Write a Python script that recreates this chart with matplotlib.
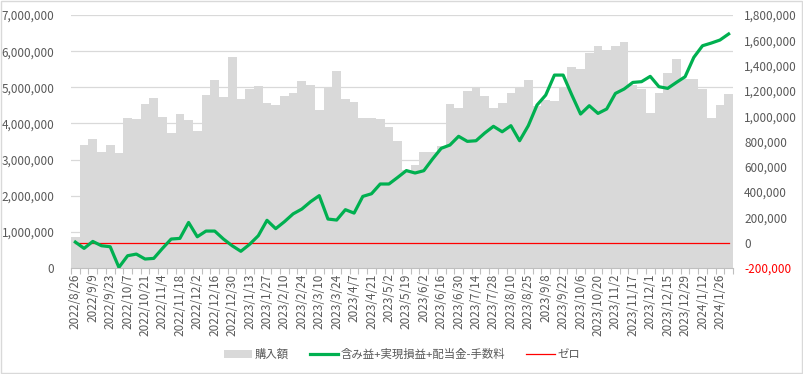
import matplotlib.pyplot as plt
from matplotlib.patches import Patch, Rectangle
from matplotlib.lines import Line2D
from matplotlib.ticker import FuncFormatter

plt.rcParams['font.family'] = ['Noto Sans CJK JP', 'DejaVu Sans']

# 日付（週ごと）
dates = [
    "2022/8/26", "2022/9/2", "2022/9/9", "2022/9/16", "2022/9/23", "2022/9/30",
    "2022/10/7", "2022/10/14", "2022/10/21", "2022/10/28", "2022/11/4", "2022/11/11",
    "2022/11/18", "2022/11/25", "2022/12/2", "2022/12/9", "2022/12/16", "2022/12/23",
    "2022/12/30", "2023/1/6", "2023/1/13", "2023/1/20", "2023/1/27", "2023/2/3",
    "2023/2/10", "2023/2/17", "2023/2/24", "2023/3/3", "2023/3/10", "2023/3/17",
    "2023/3/24", "2023/3/31", "2023/4/7", "2023/4/14", "2023/4/21", "2023/4/28",
    "2023/5/2", "2023/5/12", "2023/5/19", "2023/5/26", "2023/6/2", "2023/6/9",
    "2023/6/16", "2023/6/23", "2023/6/30", "2023/7/7", "2023/7/14", "2023/7/21",
    "2023/7/28", "2023/8/4", "2023/8/10", "2023/8/18", "2023/8/25", "2023/9/1",
    "2023/9/8", "2023/9/15", "2023/9/22", "2023/9/29", "2023/10/6", "2023/10/13",
    "2023/10/20", "2023/10/27", "2023/11/2", "2023/11/10", "2023/11/17", "2023/11/24",
    "2023/12/1", "2023/12/8", "2023/12/15", "2023/12/22", "2023/12/29", "2024/1/5",
    "2024/1/12", "2024/1/19", "2024/1/26", "2024/2/2",
]

# 購入額（左軸）
kounyu = [
    850000, 3400000, 3580000, 3220000, 3410000, 3190000, 4150000, 4130000, 4530000, 4710000,
    4180000, 3740000, 4260000, 4090000, 3790000, 4790000, 5200000, 4730000, 5840000, 4680000,
    4950000, 5030000, 4570000, 4510000, 4750000, 4840000, 5180000, 5060000, 4360000, 4990000,
    5450000, 4680000, 4590000, 4150000, 4150000, 4130000, 3910000, 3520000, 2700000, 2860000,
    3220000, 3220000, 3370000, 4540000, 4420000, 4910000, 5010000, 4760000, 4430000, 4570000,
    4830000, 5000000, 5200000, 4480000, 4640000, 4610000, 4980000, 5560000, 5510000, 5950000,
    6150000, 6040000, 6150000, 6250000, 5070000, 4960000, 4290000, 4830000, 5400000, 5780000,
    5240000, 5230000, 4940000, 4150000, 4500000, 4820000,
]

# 含み益+実現損益+配当金-手数料（右軸）
soneki = [
    5000, -45000, 10000, -24000, -32000, -195000, -103000, -90000, -129000, -124000,
    -45000, 29000, 34000, 160000, 47000, 92000, 92000, 29000, -24000, -68000,
    -13000, 55000, 177000, 111000, 166000, 228000, 266000, 324000, 372000, 187000,
    179000, 261000, 234000, 366000, 387000, 464000, 464000, 516000, 570000, 551000,
    569000, 661000, 746000, 772000, 841000, 801000, 806000, 867000, 920000, 877000,
    925000, 806000, 925000, 1088000, 1167000, 1325000, 1325000, 1167000, 1017000, 1083000,
    1022000, 1057000, 1180000, 1215000, 1267000, 1273000, 1315000, 1233000, 1220000, 1267000,
    1312000, 1465000, 1557000, 1578000, 1602000, 1650000,
]

zero = [0] * len(dates)

x = list(range(len(dates)))
txt = '#595959'

fig = plt.figure(figsize=(8.04, 3.74), dpi=100)
ax = fig.add_axes([71 / 804, 1 - 268 / 374, 662 / 804, 253 / 374])

ax.bar(x, kounyu, width=1.0, color='#d9d9d9', zorder=2)
ax.set_xlim(-0.5, len(dates) - 0.5)
ax.set_ylim(0, 7000000)
ax.set_yticks(range(0, 7000001, 1000000))
ax.yaxis.set_major_formatter(FuncFormatter(lambda v, p: f"{int(v):,}"))
ax.grid(axis='y', color='#d9d9d9', linewidth=0.9, zorder=0)
ax.set_axisbelow(True)

# 目盛り：ラベルは2週ごと、目盛り線は各区切り
ax.set_xticks(x[::2])
ax.set_xticklabels(dates[::2], rotation=90, fontsize=8.5, color=txt)
ax.set_xticks([i - 0.5 for i in range(len(dates) + 1)], minor=True)
ax.tick_params(axis='x', which='major', length=0, pad=4)
ax.tick_params(axis='x', which='minor', length=4, color='#bfbfbf', width=0.8)
ax.tick_params(axis='y', length=0, labelsize=8.5, labelcolor=txt, pad=12)

for s in ['top', 'left', 'right']:
    ax.spines[s].set_visible(False)
ax.spines['bottom'].set_color('#bfbfbf')

ax2 = ax.twinx()
ax2.plot(x, zero, color='#ff0000', linewidth=0.9, zorder=3)
ax2.plot(x, soneki, color='#00b050', linewidth=2.3, zorder=4)
ax2.set_ylim(-200000, 1800000)
ax2.set_yticks(range(-200000, 1800001, 200000))
ax2.yaxis.set_major_formatter(FuncFormatter(lambda v, p: f"{int(v):,}"))
ax2.tick_params(axis='y', length=0, labelsize=8.5, labelcolor=txt, pad=8)
for lab, v in zip(ax2.get_yticklabels(), ax2.get_yticks()):
    if v < 0:
        lab.set_color('#ff0000')
for s in ax2.spines.values():
    s.set_visible(False)

handles = [
    Patch(facecolor='#d9d9d9', edgecolor='none'),
    Line2D([], [], color='#00b050', linewidth=2.3),
    Line2D([], [], color='#ff0000', linewidth=0.9),
]
labels = ['購入額', '含み益+実現損益+配当金-手数料', 'ゼロ']
fig.legend(handles, labels, loc='center', bbox_to_anchor=(0.5, 1 - 354 / 374), ncol=3,
           frameon=False, fontsize=8.2, labelcolor=txt, handlelength=2.5,
           handletextpad=0.25, columnspacing=1.8)

fig.patches.append(Rectangle((0.001, 0.002), 0.997, 0.996, transform=fig.transFigure,
                             fill=False, edgecolor='#d9d9d9', linewidth=1))

fig.savefig('out.png', dpi=100)
